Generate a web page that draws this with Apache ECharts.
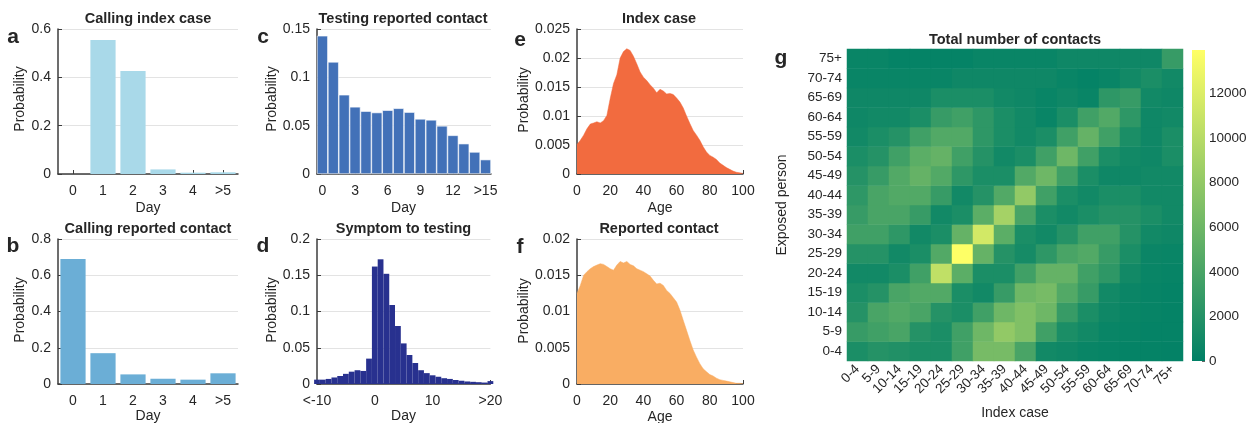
<!DOCTYPE html>
<html><head><meta charset="utf-8">
<script src="https://cdn.jsdelivr.net/npm/echarts@6/dist/echarts.min.js"></script>
<style>html,body{margin:0;padding:0;background:#fff}#c{width:1247px;height:423px}</style>
</head><body><div id="c"></div>
<script>
// ---------- DATA ----------
const dayCatsAB = ['0', '1', '2', '3', '4', '>5'];
const probA = [0, 0.554, 0.426, 0.019, 0.0055, 0.007];
const probB = [0.689, 0.17, 0.053, 0.029, 0.024, 0.059];

const dayCatsC = ['0','1','2','3','4','5','6','7','8','9','10','11','12','13','14','>15'];
const probC = [0.143, 0.116, 0.082, 0.0695, 0.065, 0.0636, 0.066, 0.068, 0.064, 0.057, 0.056, 0.0498, 0.040, 0.0314, 0.0228, 0.0149];

const daysD = [-10,-9,-8,-7,-6,-5,-4,-3,-2,-1,0,1,2,3,4,5,6,7,8,9,10,11,12,13,14,15,16,17,18,19,20];
const probD = [0.006,0.006,0.007,0.009,0.011,0.014,0.017,0.019,0.018,0.035,
               0.162,0.172,0.152,0.109,0.080,0.056,0.040,0.029,0.019,0.015,
               0.012,0.010,0.008,0.007,0.0055,0.0045,0.0035,0.003,0.0025,0.002,0.004];
const dTickValues = [-10, 0, 10, 20];
const dTickLabels = ['<-10', '0', '10', '>20'];

const ages = [0,2,4,6,8,10,12,14,16,18,20,22,24,26,28,30,32,34,36,38,40,42,44,46,48,50,
              52,54,56,58,60,62,64,66,68,70,72,74,76,78,80,82,84,86,88,90,92,94,96,98,100];
const probIndexAge = [0.0051,0.0058,0.0067,0.0078,0.0086,0.0088,0.0090,0.0088,0.0092,0.0101,
                      0.0130,0.0156,0.0171,0.0200,0.0211,0.0216,0.0213,0.0203,0.0190,0.0176,
                      0.0167,0.0161,0.0154,0.0148,0.0140,0.0146,0.0143,0.0138,0.0139,0.0137,
                      0.0131,0.0124,0.0114,0.0100,0.0087,0.0075,0.0067,0.0058,0.0047,0.0038,
                      0.0032,0.0029,0.0025,0.0019,0.0015,0.0011,0.0008,0.0005,0.0003,0.0002,0.0001];
const probContactAge = [0.0125,0.0136,0.0150,0.0155,0.0159,0.0162,0.0164,0.0166,0.0165,0.0162,
                        0.0159,0.0157,0.0164,0.0169,0.0167,0.0169,0.0165,0.0163,0.0159,0.0157,
                        0.0155,0.0152,0.0149,0.0143,0.0138,0.0139,0.0136,0.0129,0.0125,0.0119,
                        0.0113,0.0102,0.0088,0.0074,0.0060,0.0047,0.0037,0.0028,0.0021,0.0017,
                        0.0013,0.0011,0.0008,0.0006,0.0005,0.0004,0.0003,0.0002,0.0001,0.0001,0.00005];

const ageGroups = ['0-4','5-9','10-14','15-19','20-24','25-29','30-34','35-39','40-44','45-49',
                   '50-54','55-59','60-64','65-69','70-74','75+'];
// rows = exposed person (0-4 ... 75+), columns = index case (0-4 ... 75+)
const contacts00_04 = [1500,2000,1800,1500,1500,3500,6500,6500,4000,1000,800,500,400,300,300,200];
const contacts05_09 = [3000,3500,4000,2000,1500,3500,6000,8000,7000,3500,1500,1000,500,400,300,300];
const contacts10_14 = [2000,4000,4500,4000,2000,1500,3500,6000,7000,6000,3000,1500,800,500,400,300];
const contacts15_19 = [1500,2000,4000,4500,4500,1500,1000,3000,6000,6500,4500,3000,1000,600,400,300];
const contacts20_24 = [1000,1000,1500,3500,10500,5000,1500,1500,3500,5500,5500,3500,2500,1000,500,400];
const contacts25_29 = [2000,2000,1000,1500,4500,13900,5500,2000,1200,2500,4000,4500,3000,1500,600,500];
const contacts30_34 = [3500,3500,2500,1000,1500,5500,11500,5000,1500,1000,2000,3500,3500,2000,1000,800];
const contacts35_39 = [3000,4000,4000,3000,1000,1500,5000,9000,4000,1500,1000,1500,2000,2000,1500,1000];
const contacts40_44 = [2500,4000,4500,4500,3000,1000,2000,4500,8000,3500,1500,1000,1500,1500,1000,1000];
const contacts45_49 = [2000,3000,4500,5500,4500,2500,1500,1500,4500,6000,3500,1500,800,800,1000,1000];
const contacts50_54 = [1500,2000,3500,5000,5500,3500,2000,1000,1500,3500,6000,3500,1500,1000,800,1500];
const contacts55_59 = [1000,1500,2000,3500,4500,4500,2500,1500,1000,1500,3500,5500,3500,1500,800,1500];
const contacts60_64 = [800,1000,1000,1500,3000,3500,2500,1500,1000,500,1500,3500,4500,2500,800,1000];
const contacts65_69 = [800,800,800,800,1500,1500,1500,1000,800,500,800,500,2500,3000,1000,800];
const contacts70_74 = [500,500,500,500,500,800,800,800,800,800,500,300,500,1000,1500,1000];
const contacts75p   = [500,500,300,300,300,300,500,500,500,500,800,800,800,800,800,3000];
const colorbarMax = 13950;
const colorbarTicks = 2000;

// ---------- CHART ----------
const contactRows = [contacts00_04,contacts05_09,contacts10_14,contacts15_19,contacts20_24,contacts25_29,
  contacts30_34,contacts35_39,contacts40_44,contacts45_49,contacts50_54,contacts55_59,contacts60_64,
  contacts65_69,contacts70_74,contacts75p];
const heatData = [];
contactRows.forEach((row, yi) => row.forEach((v, xi) => heatData.push([xi, yi, v])));

const FONT = "'Liberation Sans', Arial, Helvetica, sans-serif";
const AX = '#3c3c3c', GRIDC = '#e3e3e3', TXT = '#262626';

function grid(left, top, width, height) {
  return {left, top, width, height, containLabel: false, outerBoundsMode: 'none'};
}
function valY(gi, max, interval) {
  return {type: 'value', gridIndex: gi, min: 0, max, interval,
    axisLine: {show: true, onZero: false, lineStyle: {color: AX, width: 1.5}},
    axisTick: {show: true, inside: true, length: 4, lineStyle: {color: AX}},
    splitLine: {show: true, lineStyle: {color: GRIDC, width: 1}},
    axisLabel: {color: TXT, fontSize: 14, margin: 7, fontFamily: FONT}};
}
function catX(gi, cats, interval) {
  return {type: 'category', gridIndex: gi, data: cats,
    axisLine: {show: true, onZero: false, lineStyle: {color: AX, width: 1.5}},
    axisTick: {show: true, inside: true, length: 4, alignWithLabel: true, interval: interval, lineStyle: {color: AX}},
    axisLabel: {color: TXT, fontSize: 14, margin: 10, fontFamily: FONT, interval: interval},
    splitLine: {show: false}};
}
function valX(gi, min, max, interval, fmt) {
  return {type: 'value', gridIndex: gi, min, max, interval,
    axisLine: {show: true, onZero: false, lineStyle: {color: AX, width: 1.5}},
    axisTick: {show: true, inside: true, length: 4, lineStyle: {color: AX}},
    axisLabel: {color: TXT, fontSize: 14, margin: 10, fontFamily: FONT, formatter: fmt,
      showMinLabel: true, showMaxLabel: true},
    splitLine: {show: false}};
}

function txt(text, x, y, opts) {
  opts = opts || {};
  const font = (opts.bold ? 'bold ' : '') + (opts.size || 14) + 'px ' + FONT;
  return {type: 'text', x, y, rotation: opts.rot || 0, z: 100,
    style: {text, fill: opts.color || TXT, font,
      align: opts.align || 'center', textAlign: opts.align || 'center',
      verticalAlign: opts.va || 'middle', textVerticalAlign: opts.va || 'middle'}};
}

const chart = echarts.init(document.getElementById('c'), null, {renderer: 'canvas'});
const dPlotWidth = 173.4;

const option = {
  animation: false,
  backgroundColor: '#ffffff',
  textStyle: {fontFamily: FONT},
  grid: [
    grid(58, 29, 180, 145),     // a
    grid(58, 239, 180, 145),    // b
    grid(317, 29, 174, 145),    // c
    grid(317, 239, dPlotWidth, 145), // d
    grid(577, 29, 166, 145),    // e
    grid(577, 239, 166, 145),   // f
    grid(847, 49, 336, 312),    // g heatmap
    grid(1192, 50, 13, 311)     // colorbar
  ],
  xAxis: [
    catX(0, dayCatsAB, 0),
    catX(1, dayCatsAB, 0),
    catX(2, dayCatsC, 2),
    valX(3, -10, 20, 10, v => { const i = dTickValues.indexOf(v); return i >= 0 ? dTickLabels[i] : ''; }),
    valX(4, 0, 100, 20),
    valX(5, 0, 100, 20),
    {type: 'category', gridIndex: 6, data: ageGroups,
      axisLine: {show: false}, axisTick: {show: false}, splitLine: {show: false},
      axisLabel: {rotate: 45, color: TXT, fontSize: 13.5, margin: 6, fontFamily: FONT, interval: 0}},
    {type: 'category', gridIndex: 7, data: ['cb'], show: false}
  ],
  yAxis: [
    valY(0, 0.6, 0.2),
    valY(1, 0.8, 0.2),
    valY(2, 0.15, 0.05),
    valY(3, 0.2, 0.05),
    valY(4, 0.025, 0.005),
    valY(5, 0.02, 0.005),
    {type: 'category', gridIndex: 6, data: ageGroups,
      axisLine: {show: false}, axisTick: {show: false}, splitLine: {show: false},
      axisLabel: {color: TXT, fontSize: 13.5, margin: 5, fontFamily: FONT, interval: 0}},
    {type: 'value', gridIndex: 7, position: 'right', min: 0, max: colorbarMax, interval: colorbarTicks,
      axisLine: {show: false}, splitLine: {show: false},
      axisTick: {show: true, inside: true, length: 3, lineStyle: {color: '#666'}},
      axisLabel: {color: TXT, fontSize: 13.5, margin: 4, fontFamily: FONT, showMaxLabel: false,
        formatter: v => String(v)}}
  ],
  visualMap: [{show: false, seriesIndex: 6, min: 0, max: colorbarMax, dimension: 2,
    inRange: {color: ['#008066', '#ffff66']}}],
  series: [
    {type: 'bar', xAxisIndex: 0, yAxisIndex: 0, data: probA, barCategoryGap: '16%',
      itemStyle: {color: '#a9d9e9'}},
    {type: 'bar', xAxisIndex: 1, yAxisIndex: 1, data: probB, barCategoryGap: '16%',
      itemStyle: {color: '#6baed6'}},
    {type: 'bar', xAxisIndex: 2, yAxisIndex: 2, data: probC, barCategoryGap: '0%',
      itemStyle: {color: '#4271b8', borderColor: '#ffffff', borderWidth: 0.6}},
    {type: 'bar', xAxisIndex: 3, yAxisIndex: 3, data: daysD.map((d, i) => [d, probD[i]]),
      barWidth: dPlotWidth / 30, clip: true, itemStyle: {color: '#28318f'}},
    {type: 'line', xAxisIndex: 4, yAxisIndex: 4, data: ages.map((a, i) => [a, probIndexAge[i]]),
      showSymbol: false, symbol: 'none', lineStyle: {color: '#f26b3f', width: 0.5},
      areaStyle: {color: '#f26b3f', opacity: 1}},
    {type: 'line', xAxisIndex: 5, yAxisIndex: 5, data: ages.map((a, i) => [a, probContactAge[i]]),
      showSymbol: false, symbol: 'none', lineStyle: {color: '#f9ad63', width: 0.5},
      areaStyle: {color: '#f9ad63', opacity: 1}},
    {type: 'heatmap', xAxisIndex: 6, yAxisIndex: 6, data: heatData, progressive: 0},
    {type: 'bar', xAxisIndex: 7, yAxisIndex: 7, data: [colorbarMax], barWidth: '100%', z: 1,
      itemStyle: {color: {type: 'linear', x: 0, y: 1, x2: 0, y2: 0,
        colorStops: [{offset: 0, color: '#008066'}, {offset: 1, color: '#ffff66'}]}}}
  ],
  graphic: [
    // panel letters
    txt('a', 13, 27, {bold: true, size: 21, va: 'alphabetic'}),
    txt('b', 13, 236, {bold: true, size: 21, va: 'alphabetic'}),
    txt('c', 263, 27, {bold: true, size: 21, va: 'alphabetic'}),
    txt('d', 263, 236, {bold: true, size: 21, va: 'alphabetic'}),
    txt('e', 520, 30, {bold: true, size: 21, va: 'alphabetic'}),
    txt('f', 520, 237, {bold: true, size: 21, va: 'alphabetic'}),
    txt('g', 781, 48, {bold: true, size: 21, va: 'alphabetic'}),
    // titles
    txt('Calling index case', 148, 19, {bold: true, size: 14.5}),
    txt('Calling reported contact', 148, 229, {bold: true, size: 14.5}),
    txt('Testing reported contact', 403, 19, {bold: true, size: 14.5}),
    txt('Symptom to testing', 403.5, 229, {bold: true, size: 14.5}),
    txt('Index case', 659, 19, {bold: true, size: 14.5}),
    txt('Reported contact', 659, 229, {bold: true, size: 14.5}),
    txt('Total number of contacts', 1015, 40, {bold: true, size: 14.5}),
    // y axis names
    txt('Probability', 20.5, 99, {rot: Math.PI / 2, size: 14}),
    txt('Probability', 20.5, 310, {rot: Math.PI / 2, size: 14}),
    txt('Probability', 272.5, 99, {rot: Math.PI / 2, size: 14}),
    txt('Probability', 272.5, 310, {rot: Math.PI / 2, size: 14}),
    txt('Probability', 524, 100, {rot: Math.PI / 2, size: 14}),
    txt('Probability', 524, 311, {rot: Math.PI / 2, size: 14}),
    txt('Exposed person', 782, 205, {rot: Math.PI / 2, size: 14}),
    // x axis names
    txt('Day', 148, 208, {size: 14}),
    txt('Day', 148, 416, {size: 14}),
    txt('Day', 403.5, 208, {size: 14}),
    txt('Day', 403.5, 416, {size: 14}),
    txt('Age', 660, 208, {size: 14}),
    txt('Age', 660, 417, {size: 14}),
    txt('Index case', 1015, 413, {size: 14})
  ]
};
chart.setOption(option);
</script></body></html>
